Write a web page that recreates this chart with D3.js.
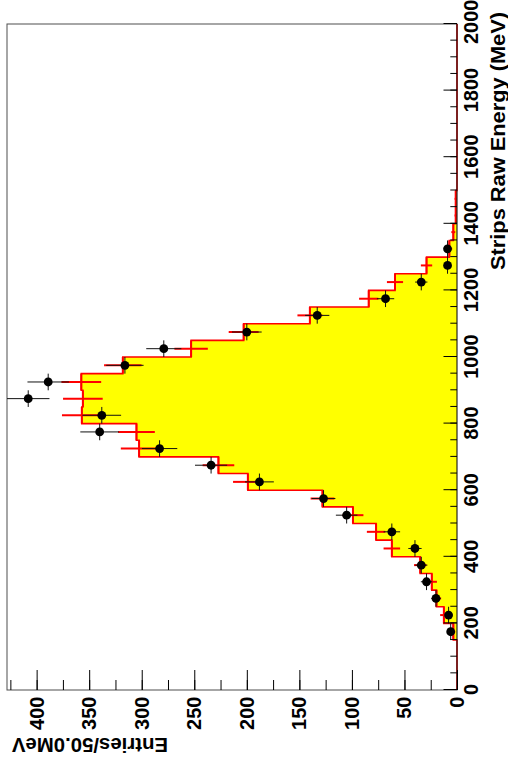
<!DOCTYPE html>
<html>
<head>
<meta charset="utf-8">
<script src="https://cdn.jsdelivr.net/npm/d3@7"></script>
<style>
  html, body { margin: 0; padding: 0; background: #fff; }
  svg { display: block; }
  text { font-family: "Liberation Sans", Arial, Helvetica, sans-serif; font-weight: bold; fill: #000; }
</style>
</head>
<body>
<svg id="chart" width="508" height="769"></svg>
<script>
// Bin lower edges in MeV (50 MeV bins, 0 - 2000 MeV)
const binLow = [
  0, 50, 100, 150, 200, 250, 300, 350, 400, 450,
  500, 550, 600, 650, 700, 750, 800, 850, 900, 950,
  1000, 1050, 1100, 1150, 1200, 1250, 1300, 1350, 1400, 1450,
  1500, 1550, 1600, 1650, 1700, 1750, 1800, 1850, 1900, 1950
];
const binWidth = 50;

// Simulated spectrum (filled histogram)
const mcCounts = [
  0, 0, 0, 3.5, 12.5, 19.5, 24, 35, 62, 77,
  99, 128, 199, 227, 302.5, 305, 357, 356, 357.5, 318,
  253, 203, 140, 84, 59, 29, 7.3, 3.5, 1.2, 1.2,
  0, 0, 0, 0, 0, 0, 0, 0, 0, 0
];

// Measured spectrum (points with errors)
const dataCounts = [
  0, 0, 0, 6, 8, 20, 29, 34, 40, 62,
  105, 127, 188, 234, 283, 340, 338, 408, 389, 316,
  279, 200, 133, 68, 34, 9, 9, 0, 0, 0,
  0, 0, 0, 0, 0, 0, 0, 0, 0, 0
];

const energyTicks = [0, 200, 400, 600, 800, 1000, 1200, 1400, 1600, 1800, 2000];
const entryTicks = [0, 50, 100, 150, 200, 250, 300, 350, 400];
const xTitle = "Strips Raw Energy (MeV)";
const yTitle = "Entries/50.0MeV";

// The canvas is drawn in landscape and turned a quarter turn counter-clockwise.
const W = 769, H = 508;
const plot = { left: 79, right: 745, top: 7, bottom: 457 };

const svg = d3.select("#chart");
const g = svg.append("g").attr("transform", `translate(0,${W}) rotate(-90)`);

const yMax = d3.max(dataCounts, v => v + Math.sqrt(v));
const x = d3.scaleLinear().domain([0, 2000]).range([plot.left, plot.right]);
const y = d3.scaleLinear().domain([0, yMax]).range([plot.bottom, plot.top]);

const steps = binLow.map((lo, i) => [lo, mcCounts[i]]);
steps.push([binLow[binLow.length - 1] + binWidth, mcCounts[mcCounts.length - 1]]);

// filled histogram
g.append("path")
  .datum(steps)
  .attr("fill", "#ffff00")
  .attr("d", d3.area().curve(d3.curveStepAfter)
    .x(d => x(d[0])).y0(y(0)).y1(d => y(d[1])));

g.append("path")
  .datum(steps)
  .attr("fill", "none")
  .attr("stroke", "#ff0000")
  .attr("stroke-width", 1.6)
  .attr("d", d3.line().curve(d3.curveStepAfter)
    .x(d => x(d[0])).y(d => y(d[1])));

// statistical error crosses of the filled histogram
const mcErr = g.append("g").attr("stroke", "#ff0000").attr("stroke-width", 2);
binLow.forEach((lo, i) => {
  const v = mcCounts[i];
  if (v <= 0) return;
  const e = Math.sqrt(v), c = lo + binWidth / 2;
  mcErr.append("line").attr("x1", x(lo)).attr("x2", x(lo + binWidth)).attr("y1", y(v)).attr("y2", y(v));
  mcErr.append("line").attr("x1", x(c)).attr("x2", x(c)).attr("y1", y(v - e)).attr("y2", y(v + e));
});

// measured points
const pts = binLow.map((lo, i) => ({ lo, v: dataCounts[i] })).filter(d => d.v > 0);
const dataG = g.append("g");
pts.forEach(d => {
  const e = Math.sqrt(d.v), c = d.lo + binWidth / 2;
  dataG.append("line").attr("stroke", "#111").attr("stroke-width", 1)
    .attr("x1", x(d.lo)).attr("x2", x(d.lo + binWidth)).attr("y1", y(d.v)).attr("y2", y(d.v));
  dataG.append("line").attr("stroke", "#111").attr("stroke-width", 1)
    .attr("x1", x(c)).attr("x2", x(c)).attr("y1", y(d.v - e)).attr("y2", y(d.v + e));
});
dataG.selectAll("circle").data(pts).join("circle")
  .attr("cx", d => x(d.lo + binWidth / 2))
  .attr("cy", d => y(d.v))
  .attr("r", 4.4)
  .attr("fill", "#000");

// frame
g.append("rect")
  .attr("x", plot.left).attr("y", plot.top)
  .attr("width", plot.right - plot.left).attr("height", plot.bottom - plot.top)
  .attr("fill", "none").attr("stroke", "#222").attr("stroke-opacity", 0.8).attr("stroke-width", 1);

// energy axis: major ticks every 200 MeV, minor every 50 MeV
const xMinor = g.append("g").attr("transform", `translate(0,${plot.bottom})`)
  .call(d3.axisBottom(x).tickValues(d3.range(0, 2001, 50)).tickSize(-6.7).tickFormat(""));
const xAxis = g.append("g").attr("transform", `translate(0,${plot.bottom})`)
  .call(d3.axisBottom(x).tickValues(energyTicks).tickSize(-13.5).tickPadding(7).tickFormat(d3.format("d")));

// entries axis: major ticks every 50, minor every 25
const yMinor = g.append("g").attr("transform", `translate(${plot.left},0)`)
  .call(d3.axisLeft(y).tickValues(d3.range(0, 426, 25)).tickSize(-10).tickFormat(""));
const yAxis = g.append("g").attr("transform", `translate(${plot.left},0)`)
  .call(d3.axisLeft(y).tickValues(entryTicks).tickSize(-20).tickPadding(6.5).tickFormat(d3.format("d")));

[xMinor, xAxis, yMinor, yAxis].forEach(a => {
  a.select(".domain").remove();
  a.selectAll(".tick line").attr("stroke", "#000").attr("stroke-width", 1);
  a.selectAll("text").attr("font-size", 20).attr("font-family", null).attr("fill", "#000");
});

// keep the last energy label inside the canvas edge
xAxis.selectAll(".tick text")
  .filter(d => d === 2000)
  .attr("text-anchor", "end")
  .attr("x", 24);

// axis line along the zero level (drawn over the outline)
g.append("line")
  .attr("x1", plot.left).attr("x2", plot.right).attr("y1", plot.bottom).attr("y2", plot.bottom)
  .attr("stroke", "#000").attr("stroke-opacity", 0.5).attr("stroke-width", 1);

// axis titles
g.append("text")
  .attr("x", 757).attr("y", 505)
  .attr("text-anchor", "end")
  .attr("font-size", 21)
  .attr("textLength", 258).attr("lengthAdjust", "spacingAndGlyphs")
  .text(xTitle);

g.append("text")
  .attr("transform", "translate(31,12) rotate(-90)")
  .attr("text-anchor", "end")
  .attr("font-size", 20)
  .attr("textLength", 156).attr("lengthAdjust", "spacingAndGlyphs")
  .text(yTitle);
</script>
</body>
</html>
